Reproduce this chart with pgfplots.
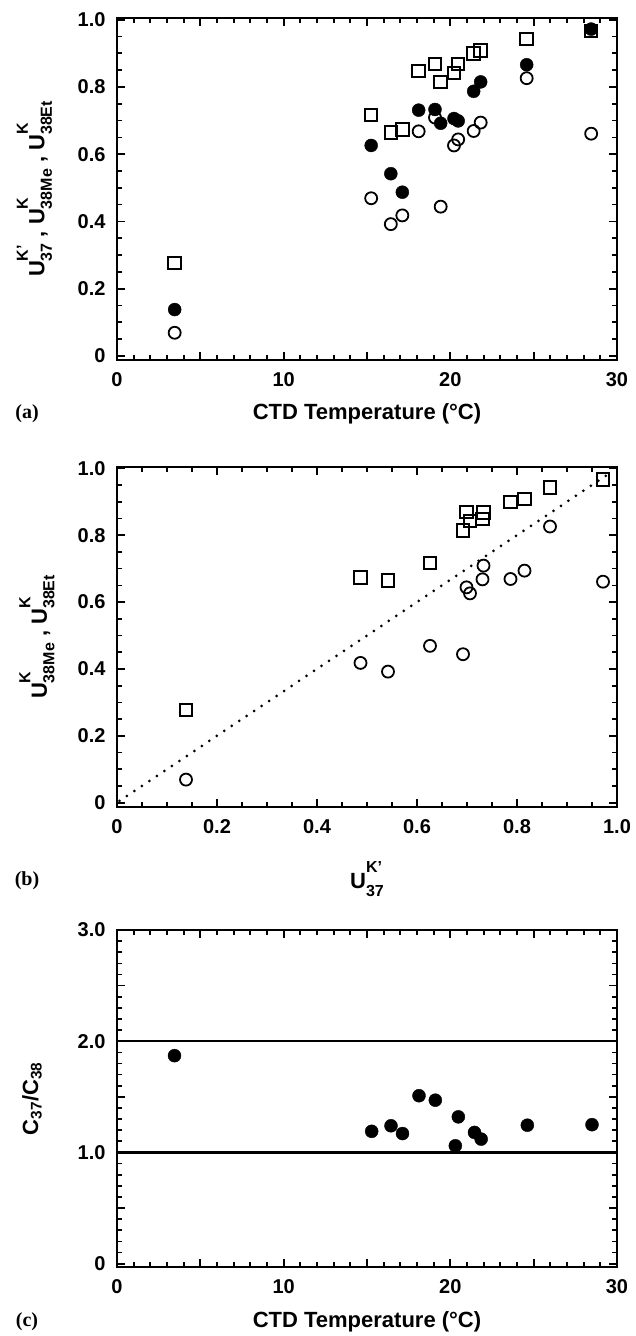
\documentclass[border=0pt]{standalone}
\usepackage{fontspec}
\setmainfont{Liberation Sans}
\newfontfamily\seriffont{Liberation Serif}
\usepackage{pgfplots}
\usepackage{pgfplotstable}
\pgfplotsset{compat=1.18}

\newcommand{\Uk}[2]{U\rlap{\raisebox{0.75em}{\fontsize{16}{16}\selectfont #1}}\raisebox{-0.34em}{\fontsize{16}{16}\selectfont #2}}

\pgfplotstableread{
T     U37    U38Me  U38Et
3.46  0.138  0.069  0.277
15.25 0.626  0.469  0.717
16.43 0.542  0.392  0.665
17.12 0.487  0.418  0.674
18.10 0.731  0.668  0.848
19.08 0.733  0.709  0.868
19.42 0.692  0.444  0.814
20.22 0.706  0.626  0.842
20.47 0.699  0.644  0.869
21.40 0.787  0.669  0.900
21.82 0.815  0.694  0.908
24.58 0.866  0.826  0.943
28.45 0.972  0.661  0.967
}\tabA

\pgfplotstableread{
T     R
3.45  1.87
15.28 1.19
16.44 1.24
17.13 1.17
18.12 1.51
19.10 1.47
20.30 1.06
20.48 1.32
21.45 1.18
21.85 1.12
24.62 1.245
28.50 1.25
}\tabC

\pgfplotsset{
  mystyle/.style={
    scale only axis, width=500pt,
    axis line style={line width=2pt},
    every tick/.style={black, line width=1.7pt},
    major tick length=8pt, minor tick length=5pt,
    tick align=inside,
    tick label style={font=\bfseries\fontsize{20}{20}\selectfont},
    /pgf/number format/assume math mode=true,
    xticklabel style={yshift=-9pt},
    yticklabel style={xshift=-8pt},
    label style={font=\bfseries\fontsize{22}{24}\selectfont},
  },
  sq/.style={only marks, mark=square, mark size=6.2pt, line width=2pt, black},
  oc/.style={only marks, mark=o, mark size=6pt, line width=1.8pt, black},
  fc/.style={only marks, mark=*, mark size=6.5pt, black, mark options={fill=black}},
}

\begin{document}
\begin{tikzpicture}
\path (0pt,0pt) rectangle (635pt,-1336pt);

% ---------- (a)
\begin{axis}[mystyle, at={(117pt,-18pt)}, anchor=north west, height=342pt,
  xmin=0, xmax=30, ymin=-0.012, ymax=1.005,
  xtick={0,5,10,15,20,25,30}, xticklabels={0,,10,,20,,30}, minor x tick num=4,
  ytick={0,0.2,0.4,0.6,0.8,1}, yticklabels={0,0.2,0.4,0.6,0.8,1.0}, minor y tick num=3,
  xlabel={CTD Temperature (°C)},
  xlabel style={at={(axis description cs:0.5,0)}, anchor=center, yshift=-54pt},
  ylabel={\Uk{K’}{37} , \Uk{K}{38Me} , \Uk{K}{38Et}},
  ylabel style={at={(axis description cs:-0.165,0.5)}, anchor=center},
]
\addplot[sq] table[x=T, y=U38Et] {\tabA};
\addplot[oc] table[x=T, y=U38Me] {\tabA};
\addplot[fc] table[x=T, y=U37] {\tabA};
\end{axis}

% ---------- (b)
\begin{axis}[mystyle, at={(117pt,-467pt)}, anchor=north west, height=340pt,
  xmin=0, xmax=1, ymin=-0.013, ymax=1.004,
  xtick={0,0.2,0.4,0.6,0.8,1}, xticklabels={0,0.2,0.4,0.6,0.8,1.0}, minor x tick num=3,
  ytick={0,0.2,0.4,0.6,0.8,1}, yticklabels={0,0.2,0.4,0.6,0.8,1.0}, minor y tick num=3,
  xlabel={\Uk{K’}{37}},
  xlabel style={at={(axis description cs:0.5,0)}, anchor=center, yshift=-72pt},
  ylabel={\Uk{K}{38Me} , \Uk{K}{38Et}},
  ylabel style={at={(axis description cs:-0.16,0.5)}, anchor=center},
]
\addplot[black, line width=3pt, line cap=round, dash pattern=on 0pt off 9pt] coordinates {(0.005,0.005) (0.99,0.99)};
\addplot[sq] table[x=U37, y=U38Et] {\tabA};
\addplot[oc] table[x=U37, y=U38Me] {\tabA};
\end{axis}

% ---------- (c)
\begin{axis}[mystyle, at={(117pt,-930pt)}, anchor=north west, height=337pt,
  xmin=0, xmax=30, ymin=-0.03, ymax=3.0,
  xtick={0,5,10,15,20,25,30}, xticklabels={0,,10,,20,,30}, minor x tick num=4,
  ytick={0,0.5,1,1.5,2,2.5,3}, yticklabels={0,,1.0,,2.0,,3.0}, minor y tick num=4,
  xlabel={CTD Temperature (°C)},
  xlabel style={at={(axis description cs:0.5,0)}, anchor=center, yshift=-55pt},
  ylabel={C\textsubscript{37}/C\textsubscript{38}},
  ylabel style={at={(axis description cs:-0.17,0.5)}, anchor=center},
]
\addplot[black, line width=2.2pt] coordinates {(0,2) (30,2)};
\addplot[black, line width=2.2pt] coordinates {(0,1) (30,1)};
\addplot[fc] table[x=T, y=R] {\tabC};
\end{axis}

\node[font=\seriffont\bfseries\fontsize{20}{20}\selectfont] at (27pt,-414pt) {(a)};
\node[font=\seriffont\bfseries\fontsize{20}{20}\selectfont] at (27pt,-881pt) {(b)};
\node[font=\seriffont\bfseries\fontsize{20}{20}\selectfont] at (27pt,-1322pt) {(c)};
\end{tikzpicture}
\end{document}
